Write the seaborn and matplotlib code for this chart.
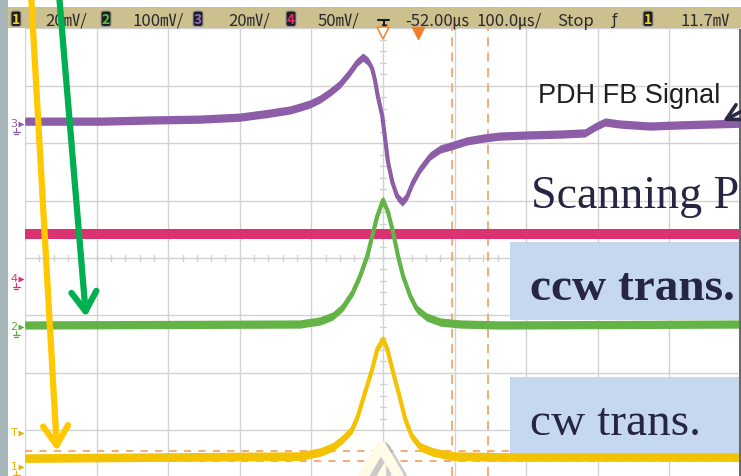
import matplotlib
matplotlib.use("Agg")
import matplotlib.pyplot as plt
import seaborn as sns
import numpy as np
import pandas as pd
from matplotlib.patches import Rectangle, FancyArrowPatch, FancyBboxPatch
from matplotlib.lines import Line2D
import matplotlib.patheffects as pe

# ---------------- data (time in us, voltage in mV) ----------------
ch3_t = [-552, -447, -377, -308, -252, -210, -182, -168, -154, -140,
         -126, -112, -98, -88, -80, -73, -67, -63, -59, -53,
         -49, -45, -39, -32, -25, -18, -10, 0, 14, 28,
         42, 65, 88, 111, 153, 195, 230, 244, 258, 279,
         321, 363, 405, 448]
ch3_mv = [1.0, 1.0, 1.4, 1.7, 2.4, 3.8, 4.9, 5.9, 7.0, 8.7,
          11.1, 13.9, 18.1, 21.6, 23.3, 21.9, 19.2, 15.0, 9.4, 2.8,
          -5.2, -13.2, -20.2, -25.4, -27.2, -25.1, -20.2, -15.7, -11.1, -8.7,
          -7.7, -5.9, -4.9, -4.2, -3.8, -3.5, -3.1, -1.0, 0.7, 0.0,
          -0.7, -0.3, 0.0, 0.3]

ch2_t = [-552, -168, -140, -122, -108, -94, -84, -74, -67, -60, -52,
         -45, -38, -31, -24, -14, -5, 9, 28, 56, 111, 448]
ch2_mv = [3.5, 5.2, 10.5, 19.2, 34.8, 61.0, 88.8, 123.7, 158.5, 193.4, 221.2,
          200.3, 165.5, 123.7, 88.8, 54.0, 31.4, 17.4, 8.7, 5.2, 3.5, 5.2]

ch1_t = [-552, -168, -140, -122, -108, -95, -87, -77, -67, -60, -52,
         -46, -38, -28, -21, -12, 0, 18, 46, 111, 448]
ch1_mv = [3.1, 3.8, 5.2, 7.0, 9.8, 13.2, 17.8, 26.1, 34.1, 41.1, 44.6,
          41.1, 33.1, 23.7, 16.7, 10.8, 7.0, 5.2, 3.8, 3.5, 3.5]

ch4_t = [-552, 448]
ch4_mv = [39.2, 39.2]

mv_per_div = {"1": 20, "2": 100, "3": 20, "4": 50}
ground_div = {"1": -3.641, "2": -1.202, "3": 2.334, "4": -0.366}

cursor_t = [44.4, 94.6]
cursor_div = [-3.362, -3.537]

bar_labels = ["20\u33b7/", "100\u33b7/", "20\u33b7/", "50\u33b7/",
              "-52.00\u33b2", "100.0\u33b2/", "Stop", "11.7\u33b7"]
bar_label_x = [45, 133, 228, 318, 405, 477, 557, 680]

# ---------------- figure ----------------
W, H = 741, 477
sns.set_theme(style="white")
plt.rcParams["font.family"] = ["DejaVu Sans", "Noto Sans CJK JP"]

fig = plt.figure(figsize=(W / 100, H / 100), dpi=100)
fig.patch.set_facecolor("white")


def fx(p):
    return p / W


def fy(p):
    return 1 - p / H


ax = fig.add_axes([fx(25), 0, fx(741) - fx(25), fy(29.4)])
ax.set_facecolor("white")

# graticule
grid_c = "#D2D2D2"
for k in range(11):
    ax.axvline(-552 + 100 * k, color=grid_c, lw=1.0, zorder=1)
for j in range(-3, 5):
    ax.axhline(j, color=grid_c, lw=1.0, zorder=1)
for yy in np.arange(-3.8, 4.0, 0.2):
    ax.plot([-52 - 4, -52 + 4], [yy, yy], color=grid_c, lw=1.0, zorder=1)
for xx in np.arange(-552, 449, 20):
    ax.plot([xx, xx], [-0.06, 0.06], color=grid_c, lw=1.0, zorder=1)

# cursors
cur_c = "#F2A66C"
for t in cursor_t:
    ax.axvline(t, color=cur_c, lw=1.3, ls=(0, (5, 3.5)), zorder=2)
for d in cursor_div:
    ax.axhline(d, color=cur_c, lw=1.3, ls=(0, (4, 4)), zorder=2)

# traces
traces = [("4", ch4_t, ch4_mv, "#DB3274", 0.092),
          ("3", ch3_t, ch3_mv, "#8D5DA8", 0.072),
          ("2", ch2_t, ch2_mv, "#63B347", 0.072),
          ("1", ch1_t, ch1_mv, "#F3C200", 0.075)]
for ch, t, mv, col, hw in traces:
    y = ground_div[ch] + np.asarray(mv) / mv_per_div[ch]
    df = pd.DataFrame({"t": t, "y": y})
    ax.fill_between(df["t"], df["y"] - hw, df["y"] + hw, color=col, lw=0, zorder=3)
    sns.lineplot(data=df, x="t", y="y", ax=ax, color=col, lw=3.0,
                 sort=False, estimator=None, zorder=3)

ax.set_xlim(-552, 448)
ax.set_ylim((259 - 477) / 57.4, 4)
ax.set_axis_off()

# ---------------- frame / top bar ----------------
fig.add_artist(Rectangle((0, 0), fx(8), 1, transform=fig.transFigure,
                         facecolor="#A7B7B9", edgecolor="none", zorder=2))
fig.add_artist(Rectangle((fx(8), fy(29.4)), 1 - fx(8), fy(8) - fy(29.4),
                         transform=fig.transFigure, facecolor="#CCC08F",
                         edgecolor="none", zorder=2))
fig.add_artist(Rectangle((fx(738.5), 0), 1 - fx(738.5), fy(30) - 0,
                         transform=fig.transFigure, facecolor="#6A6A6A",
                         edgecolor="none", zorder=2))

bar_font = ["Liberation Sans Narrow", "Noto Sans CJK JP"]
for s, x in zip(bar_labels, bar_label_x):
    fig.text(fx(x), fy(25.5), s, fontsize=12, family=bar_font, color="#2B2B2B",
             va="baseline", ha="left", zorder=3)

chan_boxes = [(11, "1", "#F5D327"), (101, "2", "#52C040"), (193, "3", "#8E6BC8"),
              (286, "4", "#E0306A"), (643, "1", "#F5D327")]
for x, s, col in chan_boxes:
    fig.add_artist(FancyBboxPatch((fx(x), fy(27.5)), fx(10), fy(12) - fy(27.5),
                                  boxstyle="round,pad=0,rounding_size=0.004",
                                  transform=fig.transFigure, facecolor="#1E1E1E",
                                  edgecolor="#9A9A9A", lw=0.8, zorder=3))
    fig.text(fx(x + 5), fy(20), s, fontsize=10, family=bar_font, color=col,
             ha="center", va="center", weight="bold", zorder=4)

fig.text(fx(615), fy(20), "\u0192", fontsize=11, color="#2B2B2B",
         ha="center", va="center", zorder=3)

# trigger symbol
for xs, ys in [([378, 389], [21, 21]), ([383.5, 383.5], [21, 29])]:
    fig.add_artist(Line2D([fx(v) for v in xs], [fy(v) for v in ys],
                          transform=fig.transFigure, color="#1A1A1A", lw=1.5, zorder=3))
fig.add_artist(Line2D([fx(383.5)], [fy(28)], transform=fig.transFigure, marker="v",
                      ms=5, color="#1A1A1A", mec="none", zorder=3))

# trigger position / delay markers
fig.add_artist(Line2D([fx(383)], [fy(34)], transform=fig.transFigure, marker="v",
                      ms=8, mfc="white", mec="#F08A3A", mew=1.2, zorder=3))
fig.add_artist(Line2D([fx(418)], [fy(34)], transform=fig.transFigure, marker="v",
                      ms=8, mfc="#F07F2A", mec="#F07F2A", zorder=3))

# channel ground markers
markers = [("3", 125, "#8A5DA8"), ("4", 280, "#D63477"), ("2", 328, "#5BAE3C"),
           ("T", 434, "#E8B400"), ("1", 468, "#E8B400")]
for s, y, col in markers:
    fig.text(fx(14), fy(y - 1), s, fontsize=8, color=col, ha="center",
             va="center", zorder=3)
    fig.add_artist(Line2D([fx(20.5)], [fy(y)], transform=fig.transFigure, marker=">",
                          ms=5, color=col, mec="none", zorder=3))
    if s != "T":
        for xs, ys in [([16, 16], [y + 4, y + 8]), ([12.5, 19.5], [y + 8, y + 8]),
                       ([14, 18], [y + 10, y + 10])]:
            fig.add_artist(Line2D([fx(v) for v in xs], [fy(v) for v in ys],
                                  transform=fig.transFigure, color=col, lw=0.9,
                                  zorder=3))

# ---------------- slide overlays ----------------
box_c = "#C6D8F0"
navy = "#262642"
fig.add_artist(Rectangle((fx(510), fy(321)), fx(738.5) - fx(510), fy(243) - fy(321),
                         transform=fig.transFigure, facecolor=box_c,
                         edgecolor="none", zorder=5))
fig.add_artist(Rectangle((fx(510), fy(454)), fx(738.5) - fx(510), fy(378) - fy(454),
                         transform=fig.transFigure, facecolor=box_c,
                         edgecolor="none", zorder=5))

fig.text(fx(538), fy(103), "PDH FB Signal", fontsize=19.5, family="Liberation Sans",
         color="#1E1E1E", va="baseline", ha="left", zorder=6)
fig.text(fx(531), fy(208), "Scanning P", fontsize=33, family="Liberation Serif",
         color=navy, va="baseline", ha="left", zorder=6)
fig.text(fx(530), fy(300.5), "ccw trans.", fontsize=34, family="Liberation Serif",
         weight="bold", color=navy, va="baseline", ha="left", zorder=6)
fig.text(fx(530), fy(435), "cw trans.", fontsize=34, family="Liberation Serif",
         color=navy, va="baseline", ha="left", zorder=6)


def arrow(p0, p1, col, lw, hl, hw, z=7, effects=None):
    a = FancyArrowPatch((fx(p0[0]), fy(p0[1])), (fx(p1[0]), fy(p1[1])),
                        transform=fig.transFigure,
                        arrowstyle=f"->,head_length={hl},head_width={hw}",
                        mutation_scale=20, color=col, lw=lw,
                        shrinkA=0, shrinkB=0, capstyle="round", joinstyle="round",
                        zorder=z)
    if effects:
        a.set_path_effects(effects)
    fig.add_artist(a)


arrow((31, -5), (57, 452), "#FFC800", 4.5, 0.7, 0.45)
arrow((59, -5), (86, 318), "#00B050", 4.5, 0.7, 0.45)
arrow((765, 100), (723, 122), "#2A2A45", 2.6, 0.55, 0.3)
arrow((381, 510), (381, 437), "#FFFBE6", 7.5, 1.05, 0.62,
      effects=[pe.Stroke(linewidth=9.5, foreground="#B5B5B5", alpha=0.7,
                         offset=(2.5, -2.5)), pe.Normal()])

fig.savefig("out.png", dpi=100, facecolor="white")
